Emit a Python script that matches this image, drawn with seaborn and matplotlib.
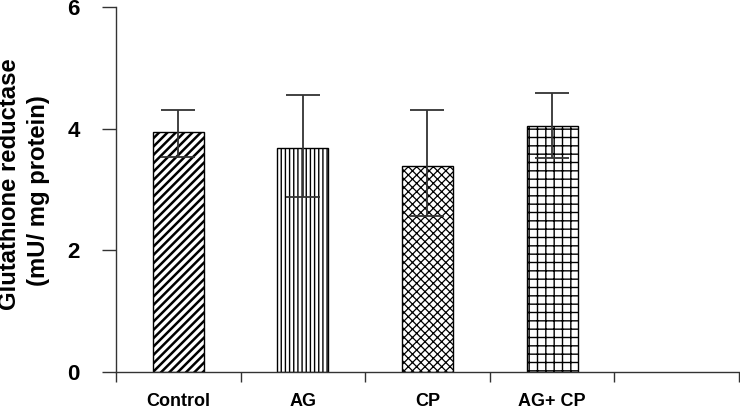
import numpy as np
import pandas as pd
import matplotlib
matplotlib.use("Agg")
import matplotlib.pyplot as plt
import seaborn as sns

# data
groups = ["Control", "AG", "CP", "AG+ CP"]
mean_gr = [3.95, 3.69, 3.39, 4.05]
err_hi = [4.31, 4.55, 4.30, 4.59]
err_lo = [3.53, 2.87, 2.56, 3.51]
hatches = ["////", "||||", "xxxx", "++"]
hatch_lw = [1.8, 1.0, 0.9, 1.0]
y_ticks = [0, 2, 4, 6]

sns.set_theme(style="ticks")
plt.rcParams["font.family"] = ["Liberation Sans", "DejaVu Sans"]
plt.rcParams["hatch.linewidth"] = 1.0
plt.rcParams["hatch.color"] = "black"
plt.rcParams["text.color"] = "black"
plt.rcParams["xtick.labelcolor"] = "black"
plt.rcParams["ytick.labelcolor"] = "black"

df = pd.DataFrame({"group": groups, "gr": mean_gr})

fig = plt.figure(figsize=(7.4, 4.12), dpi=100)
ax = fig.add_axes([116/740, 40/412, 623/740, 365/412])

sns.barplot(data=df, x="group", y="gr", order=groups, color="white",
            edgecolor="black", linewidth=1.0, width=0.41, errorbar=None, ax=ax)
for p, h, lw in zip(ax.patches, hatches, hatch_lw):
    p.set_hatch(h)
    p.set_facecolor("white")
    if hasattr(p, "set_hatch_linewidth"):
        p.set_hatch_linewidth(lw)

m = np.array(mean_gr)
ax.errorbar(np.arange(len(groups)), m,
            yerr=[m - np.array(err_lo), np.array(err_hi) - m],
            fmt="none", ecolor="#333333", elinewidth=1.3, capsize=12, capthick=1.3)

ax.set_xlim(-0.5, 4.5)
ax.set_ylim(0, 6)
ax.set_yticks(y_ticks)
ax.set_yticklabels([str(t) for t in y_ticks], fontsize=16, fontweight="bold")
ax.set_xticks(np.arange(-0.5, 5.0, 1.0))
ax.set_xticklabels([""] * 6)
ax.set_xticks(np.arange(len(groups)), minor=True)
ax.set_xticklabels(groups, minor=True, fontsize=13, fontweight="bold")
ax.tick_params(axis="x", which="minor", length=0, pad=15)
ax.tick_params(axis="x", which="major", length=7, width=1, color="#333333")
ax.tick_params(axis="y", length=10, width=1, color="#333333", pad=16)
ax.set_xlabel("")
ax.set_ylabel("")
sns.despine(ax=ax)
for s in ["left", "bottom"]:
    ax.spines[s].set_linewidth(1.0)
    ax.spines[s].set_color("#333333")

fig.text(10/740, 1 - 184/412, "Glutathione reductase", rotation=90,
         ha="center", va="center", fontsize=17.2, fontweight="bold")
fig.text(39/740, 1 - 191/412, "(mU/ mg protein)", rotation=90,
         ha="center", va="center", fontsize=17.2, fontweight="bold")

fig.savefig("out.png", dpi=100)
